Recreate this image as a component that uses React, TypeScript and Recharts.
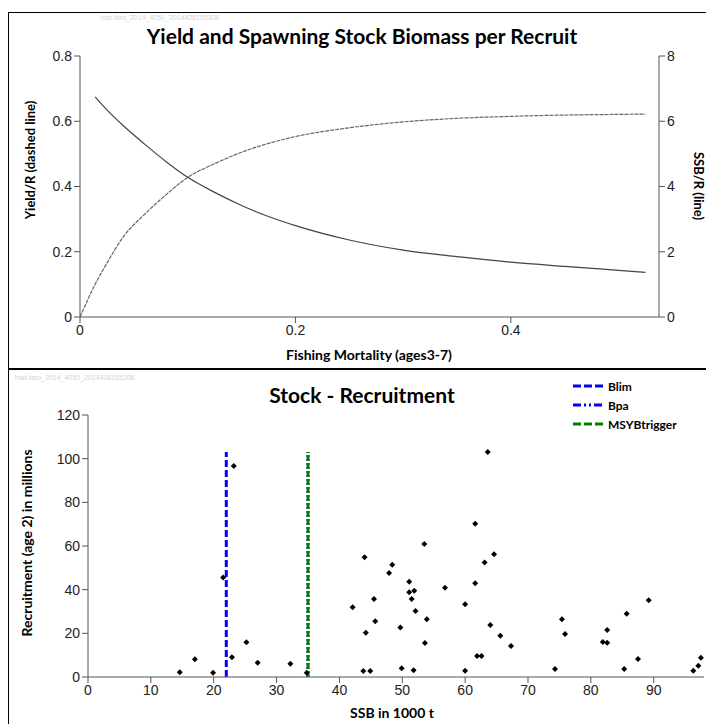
import React from "react";
import { LineChart, Line, XAxis, YAxis, ScatterChart, Scatter, ReferenceLine } from "recharts";

// yield and SSB per recruit against fishing mortality
const F_VALUES = [0, 0.014, 0.025, 0.04, 0.06, 0.08, 0.1, 0.125, 0.15, 0.175, 0.2, 0.25, 0.3, 0.35, 0.4, 0.45, 0.5, 0.525];
const YIELD_PER_RECRUIT = [0, 0.1, 0.165, 0.245, 0.315, 0.375, 0.428, 0.47, 0.505, 0.532, 0.553, 0.58, 0.598, 0.609, 0.615, 0.619, 0.621, 0.622];
const SSB_PER_RECRUIT = [null, 6.75, 6.35, 5.87, 5.3, 4.76, 4.28, 3.82, 3.42, 3.08, 2.8, 2.36, 2.05, 1.85, 1.68, 1.55, 1.43, 1.37];
const F_TICKS = [0, 0.2, 0.4];
const YPR_TICKS = [0, 0.2, 0.4, 0.6, 0.8];
const SPR_TICKS = [0, 2, 4, 6, 8];

// stock - recruitment pairs
const SSB = [
  14.6, 17.0, 19.9, 21.5, 22.9, 23.2, 25.2, 27.0, 32.2, 34.8,
  42.1, 44.0, 44.2, 43.8, 44.9, 45.5, 45.7, 47.9, 48.4, 49.7,
  49.9, 51.1, 51.1, 51.9, 51.5, 52.1, 51.8, 53.5, 53.9, 53.6,
  56.8, 60.0, 60.0, 61.6, 61.6, 61.9, 62.6, 63.1, 63.6, 64.0,
  64.6, 65.6, 67.3, 74.3, 75.4, 75.9, 81.9, 82.6, 82.6, 85.3,
  85.7, 87.5, 89.2, 96.3, 97.1, 97.5,
];
const RECRUITS = [
  2.2, 8.1, 2.0, 45.6, 9.0, 96.6, 15.9, 6.5, 6.1, 2.0,
  32.0, 54.9, 20.3, 2.7, 2.7, 35.7, 25.5, 47.6, 51.4, 22.7,
  4.0, 43.6, 38.8, 39.5, 35.7, 30.2, 3.1, 60.9, 26.5, 15.6,
  40.9, 33.3, 2.9, 70.2, 42.9, 9.6, 9.6, 52.5, 103.0, 23.8,
  56.2, 18.9, 14.2, 3.7, 26.4, 19.7, 16.0, 21.5, 15.7, 3.7,
  29.0, 8.2, 35.2, 2.9, 5.2, 8.8,
];
const SSB_TICKS = [0, 10, 20, 30, 40, 50, 60, 70, 80, 90];
const REC_TICKS = [0, 20, 40, 60, 80, 100, 120];

const BLIM = 22;
const BPA = 35;
const MSY_BTRIGGER = 35;
const REF_TOP = 103;

const TICK_FONT = "'Liberation Sans', Arial, sans-serif";
const TITLE_FONT = "Lato, 'Open Sans', sans-serif";
const WATERMARK = "had-faro_2014_4050_2014428155308";

const perRecruit = F_VALUES.map((f, i) => ({ f, ypr: YIELD_PER_RECRUIT[i], spr: SSB_PER_RECRUIT[i] }));
const stockRecruit = SSB.map((s, i) => ({ ssb: s, rec: RECRUITS[i] }));

const tickStyle = { fill: "#222", fontSize: 14, fontFamily: TICK_FONT };

const Diamond = (props: any) => {
  const { cx, cy } = props;
  if (cx == null || cy == null) return null;
  return <path d={`M${cx},${cy - 3}L${cx + 3},${cy}L${cx},${cy + 3}L${cx - 3},${cy}Z`} fill="#000" />;
};

function Text({ x, y, size, rotate = 0, bold = true, color = "#000", font = TITLE_FONT, children }: any) {
  return (
    <div
      style={{
        position: "absolute",
        left: x,
        top: y,
        transform: `translate(-50%, -50%) rotate(${rotate}deg)`,
        fontFamily: font,
        fontWeight: bold ? 700 : 400,
        fontSize: size,
        color,
        whiteSpace: "nowrap",
        lineHeight: 1,
      }}
    >
      {children}
    </div>
  );
}

function LegendRow({ y, color, dash, label }: any) {
  return (
    <div style={{ position: "absolute", left: 573, top: y - 8, height: 16, display: "flex", alignItems: "center" }}>
      <svg width={30} height={6}>
        <line x1={0} y1={3} x2={30} y2={3} stroke={color} strokeWidth={3} strokeDasharray={dash} />
      </svg>
      <span style={{ marginLeft: 5, fontFamily: TITLE_FONT, fontWeight: 700, fontSize: 12 }}>{label}</span>
    </div>
  );
}

export default function App() {
  return (
    <div style={{ position: "absolute", left: 0, top: 0, width: 706, height: 724, overflow: "hidden", background: "#fff" }}>
      <div style={{ position: "absolute", left: 0, top: 0 }}>
        <LineChart width={706} height={368} data={perRecruit} margin={{ top: 56, right: 0, bottom: 0, left: 0 }}>
          <XAxis
            dataKey="f"
            type="number"
            domain={[0, 0.5375]}
            ticks={F_TICKS}
            height={51}
            stroke="#555"
            tickSize={6}
            tick={tickStyle}
            allowDataOverflow
          />
          <YAxis yAxisId="l" domain={[0, 0.8]} ticks={YPR_TICKS} width={80} stroke="#555" tickSize={6} tick={tickStyle} />
          <YAxis yAxisId="r" orientation="right" domain={[0, 8]} ticks={SPR_TICKS} width={47} stroke="#555" tickSize={6} tick={tickStyle} />
          <Line yAxisId="l" dataKey="ypr" type="monotone" stroke="#666" strokeWidth={1.2} strokeDasharray="4 1" dot={false} isAnimationActive={false} />
          <Line yAxisId="r" dataKey="spr" type="monotone" stroke="#444" strokeWidth={1.2} dot={false} isAnimationActive={false} />
        </LineChart>
      </div>

      <div style={{ position: "absolute", left: 0, top: 368 }}>
        <ScatterChart width={706} height={356} margin={{ top: 47, right: 2, bottom: 0, left: 0 }}>
          <XAxis
            dataKey="ssb"
            type="number"
            domain={[0, 98]}
            ticks={SSB_TICKS}
            height={47}
            stroke="#555"
            tickSize={6}
            tick={tickStyle}
          />
          <YAxis dataKey="rec" type="number" domain={[0, 120]} ticks={REC_TICKS} width={88} stroke="#555" tickSize={6} tick={tickStyle} />
          <ReferenceLine segment={[{ x: BLIM, y: 0 }, { x: BLIM, y: REF_TOP }]} stroke="#0000ff" strokeWidth={3} strokeDasharray="7 3" />
          <ReferenceLine segment={[{ x: BPA, y: 0 }, { x: BPA, y: REF_TOP }]} stroke="#0000ff" strokeWidth={3} strokeDasharray="2 2" />
          <ReferenceLine segment={[{ x: MSY_BTRIGGER, y: 0 }, { x: MSY_BTRIGGER, y: REF_TOP }]} stroke="#008000" strokeWidth={3} strokeDasharray="6 2" />
          <Scatter data={stockRecruit} shape={<Diamond />} isAnimationActive={false} />
        </ScatterChart>
      </div>

      {/* panel frames */}
      <div style={{ position: "absolute", left: 8, top: 12, width: 720, height: 355, borderLeft: "1.5px solid #000", borderTop: "1.5px solid #000", borderBottom: "2px solid #000" }} />
      <div style={{ position: "absolute", left: 8, top: 369, width: 720, height: 400, borderLeft: "1.5px solid #000" }} />

      <div style={{ position: "absolute", left: 100, top: 14, fontSize: 7, color: "#d4d4d4", fontFamily: TICK_FONT }}>{WATERMARK}</div>
      <div style={{ position: "absolute", left: 15, top: 374, fontSize: 7, color: "#d4d4d4", fontFamily: TICK_FONT }}>{WATERMARK}</div>

      <Text x={362} y={35} size={21}>Yield and Spawning Stock Biomass per Recruit</Text>
      <Text x={30} y={160} size={13} rotate={-90}>Yield/R (dashed line)</Text>
      <Text x={698} y={186} size={13} rotate={90}>SSB/R (line)</Text>
      <Text x={369} y={355} size={14}>Fishing Mortality (ages3-7)</Text>

      <Text x={362} y={394} size={21}>Stock - Recruitment</Text>
      <Text x={27} y={543} size={14}>
        <span style={{ display: "inline-block", transform: "rotate(-90deg)" }}>Recruitment (age 2) in millions</span>
      </Text>
      <Text x={392} y={713} size={14}>SSB in 1000 t</Text>

      <LegendRow y={386} color="#0000ff" dash="8 3" label="Blim" />
      <LegendRow y={405} color="#0000ff" dash="8 3 2 3 2 3" label="Bpa" />
      <LegendRow y={424} color="#008000" dash="8 3" label="MSYBtrigger" />
    </div>
  );
}
